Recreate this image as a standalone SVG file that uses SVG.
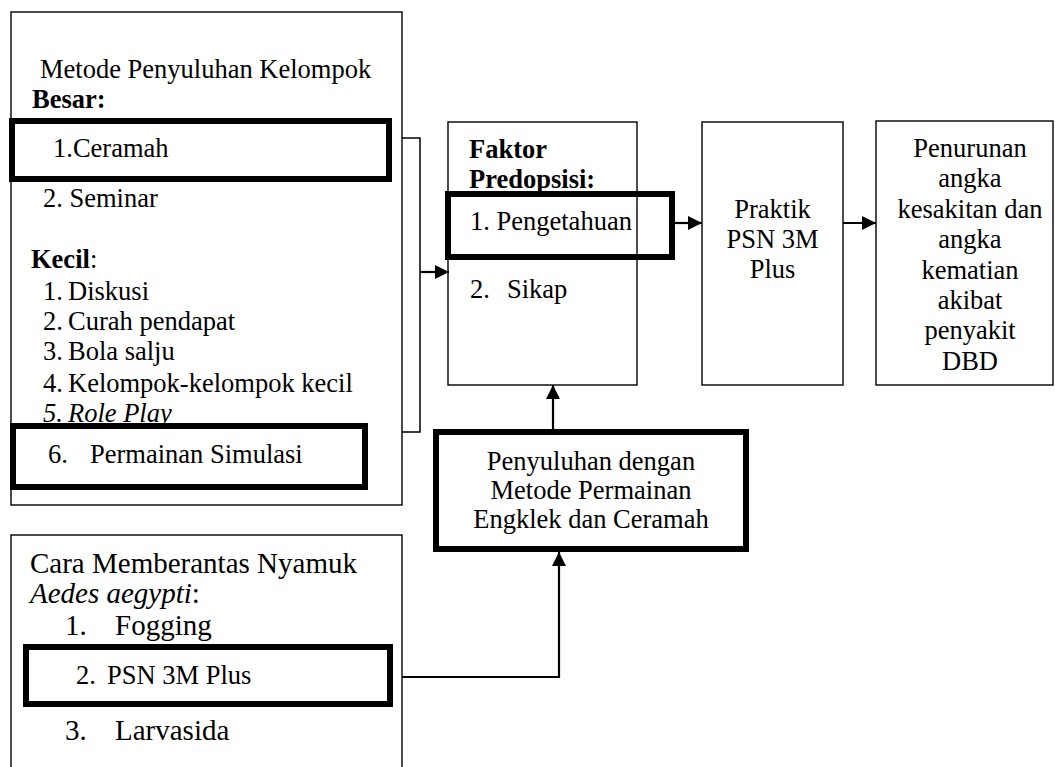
<svg xmlns="http://www.w3.org/2000/svg" width="1055" height="767" viewBox="0 0 1055 767">
<defs>
<marker id="ah" viewBox="0 0 14 14" refX="14" refY="7" markerWidth="14" markerHeight="14" markerUnits="userSpaceOnUse" orient="auto"><path d="M0,0 L14,7 L0,14 z" fill="#000"/></marker>
</defs>
<style>
text{font-family:"Liberation Serif","Times New Roman",serif;font-size:26.5px;fill:#000}
.b{font-weight:bold}
.i{font-style:italic}
.m{text-anchor:middle}
.L{font-size:29px}
.box{fill:none;stroke:#000;stroke-width:1.4}
.hl{fill:none;stroke:#000;stroke-width:6}
.c{fill:none;stroke:#000;stroke-width:1.5}
.a{fill:none;stroke:#000;stroke-width:2.2;marker-end:url(#ah)}
</style>
<rect width="1055" height="767" fill="#fff"/>
<g id="metode">
<rect class="box" x="11" y="12" width="391" height="493"/>
<text x="40" y="78">Metode Penyuluhan Kelompok</text>
<text class="b" x="32" y="108">Besar:</text>
<g id="ceramah"><rect class="hl" x="12" y="121" width="377" height="58"/>
<text x="53" y="157">1.Ceramah</text></g>
<text x="43" y="207">2. Seminar</text>
<text x="31" y="268"><tspan class="b">Kecil</tspan>:</text>
<text x="43" y="300">1.</text><text x="68" y="300">Diskusi</text>
<text x="43" y="330">2.</text><text x="68" y="330">Curah pendapat</text>
<text x="43" y="360">3.</text><text x="68" y="360">Bola salju</text>
<text x="43" y="392">4.</text><text x="68" y="392">Kelompok-kelompok kecil</text>
<text class="i" x="43" y="422">5.</text><text class="i" x="68" y="422">Role Play</text>
<g id="simulasi"><rect class="hl" x="13" y="426" width="352" height="61"/>
<text x="48" y="463">6.</text><text x="90" y="463">Permainan Simulasi</text></g>
</g>
<g id="faktor">
<rect class="box" x="448" y="122" width="189" height="263"/>
<text class="b" x="469" y="158">Faktor</text>
<text class="b" x="469" y="188">Predopsisi:</text>
<g id="pengetahuan"><rect class="hl" x="448" y="194" width="224" height="63"/>
<text x="470" y="230">1. Pengetahuan</text></g>
<text x="470" y="298">2.</text><text x="507" y="298">Sikap</text>
</g>
<g id="praktik">
<rect class="box" x="702" y="122" width="141" height="263"/>
<text class="m" x="772.5" y="218">Praktik</text>
<text class="m" x="772.5" y="248">PSN 3M</text>
<text class="m" x="772.5" y="278">Plus</text>
</g>
<g id="penurunan">
<rect class="box" x="876" y="121" width="177" height="264"/>
<text class="m" x="970" y="157">Penurunan</text>
<text class="m" x="970" y="187.4">angka</text>
<text class="m" x="970" y="217.8">kesakitan dan</text>
<text class="m" x="970" y="248.2">angka</text>
<text class="m" x="970" y="278.6">kematian</text>
<text class="m" x="970" y="309">akibat</text>
<text class="m" x="970" y="339.4">penyakit</text>
<text class="m" x="970" y="369.8">DBD</text>
</g>
<g id="penyuluhan">
<rect class="hl" x="436" y="432" width="310" height="117"/>
<text class="m" x="591" y="470">Penyuluhan dengan</text>
<text class="m" x="591" y="499">Metode Permainan</text>
<text class="m" x="591" y="528">Engklek dan Ceramah</text>
</g>
<g id="cara">
<rect class="box" x="11" y="535" width="391" height="240"/>
<text class="L" x="30" y="573">Cara Memberantas Nyamuk</text>
<text class="L" x="30" y="603"><tspan class="i">Aedes aegypti</tspan>:</text>
<text class="L" x="65" y="635">1.</text><text class="L" x="115" y="635">Fogging</text>
<g id="psn"><rect class="hl" x="26" y="647" width="364" height="57"/>
<text x="76" y="684">2.</text><text x="107" y="684">PSN 3M Plus</text></g>
<text class="L" x="65" y="740">3.</text><text class="L" x="115" y="740">Larvasida</text>
</g>
<g id="connectors">
<path class="c" d="M402,138 H420 V432 H402"/>
<path class="a" d="M420,272 H449"/>
<path class="a" d="M675,223 H702"/>
<path class="a" d="M843,223 H876"/>
<path class="a" d="M553,429 V385"/>
<path class="a" d="M402,677 H559 V552"/>
</g>
</svg>
